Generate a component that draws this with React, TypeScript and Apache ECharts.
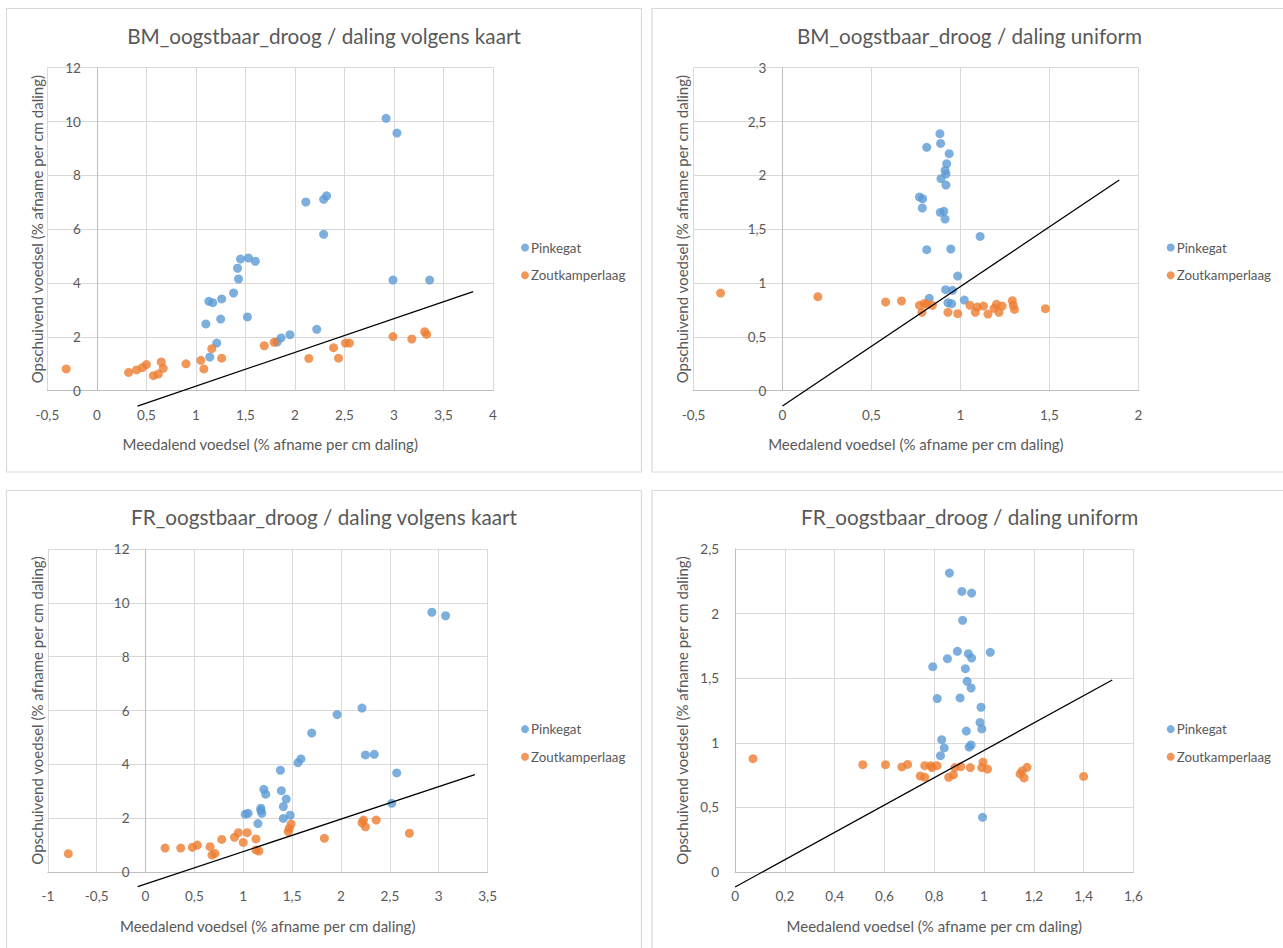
import React, { useEffect, useRef } from 'react';
import * as echarts from 'echarts';

// ---------- texts ----------
const seriesNames = ['Pinkegat', 'Zoutkamperlaag'];
const panelTitles = [
  'BM_oogstbaar_droog / daling volgens kaart',
  'BM_oogstbaar_droog / daling uniform',
  'FR_oogstbaar_droog / daling volgens kaart',
  'FR_oogstbaar_droog / daling uniform',
];
const xAxisTitle = 'Meedalend voedsel (% afname per cm daling)';
const yAxisTitle = 'Opschuivend voedsel (% afname per cm daling)';

// ---------- panel 1: BM / daling volgens kaart ----------
const bmKaartPinkegat = [
  [2.92, 10.12], [3.03, 9.57], [2.11, 7.01], [2.29, 7.11], [2.32, 7.24], [2.29, 5.81],
  [1.45, 4.89], [1.53, 4.93], [1.6, 4.81], [1.42, 4.55], [1.43, 4.15], [1.38, 3.63],
  [1.13, 3.32], [1.17, 3.27], [1.26, 3.41], [1.1, 2.48], [1.25, 2.66], [1.52, 2.74],
  [1.21, 1.77], [1.14, 1.25], [1.82, 1.81], [1.86, 1.96], [1.95, 2.08], [2.22, 2.28],
  [2.99, 4.11], [3.36, 4.11],
];
const bmKaartZoutkamperlaag = [
  [-0.31, 0.81], [0.32, 0.68], [0.4, 0.77], [0.46, 0.86], [0.5, 0.97], [0.57, 0.56],
  [0.62, 0.62], [0.65, 1.07], [0.67, 0.83], [0.9, 1.0], [1.05, 1.13], [1.08, 0.81],
  [1.16, 1.56], [1.26, 1.21], [1.69, 1.67], [1.79, 1.8], [2.14, 1.2], [2.39, 1.6],
  [2.44, 1.21], [2.51, 1.77], [2.55, 1.77], [2.99, 2.01], [3.18, 1.92], [3.31, 2.19],
  [3.33, 2.09],
];
const bmKaartLine = [[0.41, -0.57], [3.8, 3.68]];

// ---------- panel 2: BM / daling uniform ----------
const bmUniformPinkegat = [
  [0.885, 2.387], [0.889, 2.297], [0.811, 2.26], [0.937, 2.201], [0.923, 2.108],
  [0.914, 2.046], [0.919, 2.012], [0.891, 1.969], [0.919, 1.91], [0.77, 1.799],
  [0.788, 1.783], [0.786, 1.697], [0.887, 1.656], [0.907, 1.666], [0.914, 1.594],
  [1.111, 1.433], [0.811, 1.31], [0.946, 1.316], [0.985, 1.065], [0.917, 0.938],
  [0.956, 0.932], [0.825, 0.858], [1.022, 0.842], [0.93, 0.817], [0.951, 0.808],
];
const bmUniformZoutkamperlaag = [
  [-0.348, 0.907], [0.199, 0.873], [0.58, 0.824], [0.669, 0.833], [0.77, 0.793],
  [0.797, 0.811], [0.784, 0.728], [0.813, 0.802], [0.843, 0.793], [0.93, 0.728],
  [0.985, 0.715], [1.054, 0.793], [1.084, 0.728], [1.095, 0.777], [1.13, 0.786],
  [1.155, 0.712], [1.189, 0.765], [1.203, 0.802], [1.217, 0.728], [1.235, 0.786],
  [1.292, 0.836], [1.297, 0.793], [1.304, 0.755], [1.478, 0.762],
];
const bmUniformLine = [[0, -0.142], [1.893, 1.957]];

// ---------- panel 3: FR / daling volgens kaart ----------
const frKaartPinkegat = [
  [2.93, 9.65], [3.07, 9.52], [2.215, 6.09], [1.96, 5.85], [1.7, 5.16], [1.56, 4.06],
  [1.59, 4.2], [2.25, 4.35], [2.34, 4.37], [2.57, 3.68], [1.38, 3.78], [1.21, 3.07],
  [1.23, 2.89], [1.39, 3.02], [1.44, 2.71], [1.41, 2.43], [1.18, 2.37], [1.18, 2.29],
  [1.19, 2.18], [1.02, 2.15], [1.05, 2.18], [1.41, 1.99], [1.48, 2.11], [1.15, 1.8],
  [2.52, 2.55],
];
const frKaartZoutkamperlaag = [
  [-0.79, 0.68], [0.2, 0.89], [0.36, 0.89], [0.48, 0.92], [0.53, 1.0], [0.66, 0.94],
  [0.68, 0.63], [0.71, 0.69], [0.78, 1.21], [0.91, 1.29], [0.95, 1.46], [1.0, 1.1],
  [1.04, 1.46], [1.13, 1.23], [1.13, 0.82], [1.16, 0.78], [1.46, 1.5], [1.47, 1.62],
  [1.49, 1.78], [1.83, 1.25], [2.215, 1.83], [2.23, 1.93], [2.25, 1.68], [2.36, 1.93],
  [2.7, 1.44],
];
const frKaartLine = [[-0.08, -0.545], [3.37, 3.62]];

// ---------- panel 4: FR / daling uniform ----------
const frUniformPinkegat = [
  [0.861, 2.314], [0.911, 2.172], [0.95, 2.159], [0.914, 1.948], [0.893, 1.708],
  [0.937, 1.69], [0.95, 1.656], [1.025, 1.7], [0.853, 1.651], [0.794, 1.589],
  [0.925, 1.574], [0.932, 1.476], [0.948, 1.424], [0.812, 1.342], [0.904, 1.347],
  [0.988, 1.275], [0.984, 1.158], [0.991, 1.107], [0.929, 1.091], [0.83, 1.024],
  [0.84, 0.96], [0.94, 0.967], [0.948, 0.983], [0.825, 0.9], [0.994, 0.423],
];
const frUniformZoutkamperlaag = [
  [0.072, 0.877], [0.513, 0.831], [0.604, 0.831], [0.67, 0.813], [0.693, 0.833],
  [0.744, 0.743], [0.762, 0.733], [0.762, 0.823], [0.786, 0.823], [0.791, 0.808],
  [0.811, 0.823], [0.858, 0.733], [0.877, 0.751], [0.883, 0.808], [0.907, 0.815],
  [0.945, 0.808], [0.996, 0.851], [0.991, 0.808], [1.014, 0.797], [1.145, 0.759],
  [1.153, 0.782], [1.161, 0.728], [1.173, 0.81], [1.4, 0.74],
];
const frUniformLine = [[0, -0.116], [1.515, 1.486]];

// ---------- axis ranges ----------
const xRanges = [
  { min: -0.5, max: 4, interval: 0.5 },
  { min: -0.5, max: 2, interval: 0.5 },
  { min: -1, max: 3.5, interval: 0.5 },
  { min: 0, max: 1.6, interval: 0.2 },
];
const yRanges = [
  { min: 0, max: 12, interval: 2 },
  { min: 0, max: 3, interval: 0.5 },
  { min: 0, max: 12, interval: 2 },
  { min: 0, max: 2.5, interval: 0.5 },
];

const panelData = [
  [bmKaartPinkegat, bmKaartZoutkamperlaag, bmKaartLine],
  [bmUniformPinkegat, bmUniformZoutkamperlaag, bmUniformLine],
  [frKaartPinkegat, frKaartZoutkamperlaag, frKaartLine],
  [frUniformPinkegat, frUniformZoutkamperlaag, frUniformLine],
];

// ---------- layout (pixels) ----------
const gridBoxes = [
  { left: 47.4, top: 67.7, width: 445.6, height: 323 },
  { left: 693.5, top: 67.7, width: 444.8, height: 323 },
  { left: 47.8, top: 549, width: 439.8, height: 323 },
  { left: 735.1, top: 549, width: 398.3, height: 323 },
];
const yNameGaps = [52, 93, 101, 46];
const titleCenters = [
  { x: 324, y: 36 },
  { x: 969.5, y: 36 },
  { x: 324, y: 517 },
  { x: 969.7, y: 517 },
];
const legendPos = [
  { left: 521, top: 241 },
  { left: 1166.7, top: 241 },
  { left: 521, top: 722.6 },
  { left: 1166.7, top: 722.6 },
];
const frames = [
  { x: 6.5, y: 8.5, width: 635, height: 463.5 },
  { x: 652, y: 8.5, width: 640, height: 463.5 },
  { x: 6.5, y: 490.5, width: 635, height: 470 },
  { x: 652, y: 490.5, width: 640, height: 470 },
];

const FONT = 'Lato, "Open Sans", sans-serif';
const TEXT = '#595959';
const BLUE = '#5B9BD5';
const ORANGE = '#ED7D31';

const fmt = (v: number) => String(+v.toFixed(2)).replace('.', ',');

function buildOption() {
  const grid: any[] = [];
  const xAxis: any[] = [];
  const yAxis: any[] = [];
  const series: any[] = [];
  const title: any[] = [];
  const legend: any[] = [];

  for (let i = 0; i < 4; i++) {
    const box = gridBoxes[i];
    const xr = xRanges[i];
    // the vertical axis crosses the horizontal axis at x = 0 (as in Excel)
    const zeroOffset = -((0 - xr.min) / (xr.max - xr.min)) * box.width;
    grid.push({ ...box, containLabel: false, outerBoundsMode: 'none' });
    title.push({
      text: panelTitles[i],
      left: titleCenters[i].x,
      top: titleCenters[i].y,
      textAlign: 'center',
      textVerticalAlign: 'middle',
      padding: 0,
      textStyle: { fontFamily: FONT, fontSize: 20.7, fontWeight: 'normal', color: TEXT },
    });
    xAxis.push({
      type: 'value',
      gridIndex: i,
      ...xr,
      name: xAxisTitle,
      nameLocation: 'middle',
      nameGap: 46,
      nameTextStyle: { fontFamily: FONT, fontSize: 15, color: TEXT },
      axisLine: { show: true, onZero: true, lineStyle: { color: '#BFBFBF', width: 1 } },
      axisTick: { show: false },
      axisLabel: { margin: 17, fontFamily: FONT, fontSize: 13.5, color: TEXT, formatter: fmt },
      splitLine: { show: true, lineStyle: { color: '#D9D9D9', width: 1 } },
    });
    yAxis.push({
      type: 'value',
      gridIndex: i,
      ...yRanges[i],
      offset: zeroOffset,
      name: yAxisTitle,
      nameLocation: 'middle',
      nameGap: yNameGaps[i],
      nameTextStyle: { fontFamily: FONT, fontSize: 15, color: TEXT },
      axisLine: { show: true, onZero: false, lineStyle: { color: '#BFBFBF', width: 1 } },
      axisTick: { show: false },
      axisLabel: { margin: 16, fontFamily: FONT, fontSize: 13.5, color: TEXT, formatter: fmt },
      splitLine: { show: true, lineStyle: { color: '#D9D9D9', width: 1 } },
    });
    const [pink, zout, line] = panelData[i];
    series.push({
      type: 'scatter',
      name: seriesNames[0],
      xAxisIndex: i,
      yAxisIndex: i,
      data: pink,
      symbol: 'circle',
      symbolSize: 9,
      itemStyle: { color: BLUE },
      z: 3,
    });
    series.push({
      type: 'scatter',
      name: seriesNames[1],
      xAxisIndex: i,
      yAxisIndex: i,
      data: zout,
      symbol: 'circle',
      symbolSize: 9,
      itemStyle: { color: ORANGE },
      z: 3,
    });
    series.push({
      type: 'line',
      name: 'trend' + i,
      xAxisIndex: i,
      yAxisIndex: i,
      data: line,
      showSymbol: false,
      symbol: 'none',
      clip: false,
      silent: true,
      lineStyle: { color: '#000000', width: 1.3 },
      z: 4,
    });
    legend.push({
      data: seriesNames,
      orient: 'vertical',
      left: legendPos[i].left,
      top: legendPos[i].top,
      padding: 0,
      itemGap: 14.7,
      itemWidth: 8,
      itemHeight: 8,
      icon: 'circle',
      selectedMode: false,
      textStyle: { fontFamily: FONT, fontSize: 13.3, color: TEXT, padding: [0, 0, 0, -3] },
    });
  }

  return {
    animation: false,
    backgroundColor: '#ffffff',
    title,
    legend,
    grid,
    xAxis,
    yAxis,
    series,
    graphic: frames.map((f) => ({
      type: 'rect',
      shape: { x: f.x, y: f.y, width: f.width, height: f.height },
      style: { fill: 'none', stroke: '#D9D9D9', lineWidth: 1.2 },
      silent: true,
      z: -10,
    })),
  };
}

export default function App() {
  const ref = useRef<HTMLDivElement>(null);
  useEffect(() => {
    if (!ref.current) return;
    const chart = echarts.init(ref.current, null, { renderer: 'svg' });
    chart.setOption(buildOption() as any);
    return () => chart.dispose();
  }, []);
  return (
    <div
      ref={ref}
      style={{ position: 'fixed', left: 0, top: 0, width: 1283, height: 948, background: '#fff' }}
    />
  );
}
